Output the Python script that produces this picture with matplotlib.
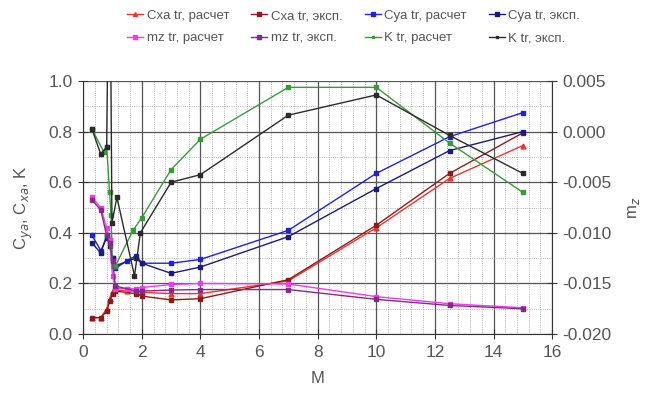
import matplotlib.pyplot as plt
from matplotlib.ticker import MultipleLocator

# числа Маха для расчета и эксперимента
M_calc = [0.3, 0.6, 0.8, 0.9, 1.0, 1.1, 1.5, 1.8, 2.0, 3, 4, 7, 10, 12.5, 15]
M_exp = [0.3, 0.6, 0.8, 0.9, 1.0, 1.1, 1.8, 2.0, 3, 4, 7, 10, 12.5, 15]

cxa_calc = [0.065, 0.065, 0.10, 0.14, 0.17, 0.175, 0.17, 0.17, 0.165, 0.16, 0.16, 0.21, 0.42, 0.615, 0.745]
cxa_exp = [0.065, 0.065, 0.09, 0.13, 0.16, 0.17, 0.16, 0.15, 0.135, 0.14, 0.215, 0.43, 0.635, 0.795]

cya_calc = [0.39, 0.33, 0.38, 0.37, 0.30, 0.26, 0.29, 0.31, 0.28, 0.28, 0.295, 0.41, 0.635, 0.78, 0.875]
cya_exp = [0.36, 0.32, 0.39, 0.35, 0.30, 0.27, 0.30, 0.28, 0.24, 0.265, 0.385, 0.575, 0.725, 0.80]

mz_calc = [-0.0065, -0.0075, -0.0095, -0.01075, -0.01425, -0.0155, -0.0155, -0.0155,
           -0.0154, -0.0151, -0.015, -0.01505, -0.0163, -0.0170, -0.0174]
mz_exp = [-0.00675, -0.00775, -0.01025, -0.011, -0.01275, -0.01525, -0.01575, -0.01575,
          -0.01565, -0.0156, -0.0156, -0.01657, -0.01717, -0.0175]

M_k_calc = [0.3, 0.7, 0.8, 0.9, 0.95, 1.0, 1.1, 1.7, 2.0, 3, 4, 7, 10, 12.5, 15]
k_calc = [0.81, 0.72, 0.74, 0.56, 0.47, 0.27, 0.27, 0.41, 0.46, 0.65, 0.77, 0.975, 0.975, 0.755, 0.56]
M_k_exp = [0.3, 0.6, 0.8, 0.9, 0.98, 1.15, 1.75, 1.95, 3, 4, 7, 10, 12.5, 15]
k_exp = [0.81, 0.71, 0.74, 1.8, 0.44, 0.54, 0.23, 0.40, 0.60, 0.63, 0.865, 0.945, 0.785, 0.635]

plt.rcParams['font.family'] = ['Liberation Sans', 'DejaVu Sans']

fig = plt.figure(figsize=(6.45, 4.03), dpi=100)
ax = fig.add_axes([0.129, 0.171, 0.727, 0.628])
ax2 = ax.twinx()

ms = 3.5
l1, = ax.plot(M_calc, cxa_calc, '-^', color='#e8372f', ms=ms, lw=1, label='Cxa tr, расчет')
l2, = ax.plot(M_exp, cxa_exp, '-s', color='#8e1b1b', ms=ms - 0.5, lw=1, label='Cxa tr, эксп.')
l3, = ax.plot(M_calc, cya_calc, '-s', color='#2020e0', ms=ms, lw=1, label='Cya tr, расчет')
l4, = ax.plot(M_exp, cya_exp, '-s', color='#1b1b7a', ms=ms, lw=1, label='Cya tr, эксп.')
l7, = ax.plot(M_k_calc, k_calc, '-s', color='#3a9a3a', ms=ms - 1, lw=1, label='K tr, расчет')
l8, = ax.plot(M_k_exp, k_exp, '-s', color='#2b2b2b', ms=ms - 1, lw=1, label='K tr, эксп.')
l5, = ax2.plot(M_calc, mz_calc, '-s', color='#ee3cee', ms=ms - 0.5, lw=1, label='mz tr, расчет')
l6, = ax2.plot(M_exp, mz_exp, '-s', color='#862a86', ms=ms - 0.5, lw=1, label='mz tr, эксп.')

ax.set_xlim(0, 16)
ax.set_ylim(0, 1.0)
ax2.set_ylim(-0.020, 0.005)
ax.xaxis.set_major_locator(MultipleLocator(2))
ax.xaxis.set_minor_locator(MultipleLocator(0.4))
ax.yaxis.set_major_locator(MultipleLocator(0.2))
ax.yaxis.set_minor_locator(MultipleLocator(0.1))
ax2.yaxis.set_major_locator(MultipleLocator(0.005))
ax.yaxis.set_major_formatter(plt.FormatStrFormatter('%.1f'))
ax2.yaxis.set_major_formatter(plt.FormatStrFormatter('%.3f'))

ax.grid(True, which='major', color='#555555', lw=0.9)
ax.grid(True, which='minor', color='#999999', lw=0.6, ls=':')

for a in (ax, ax2):
    for s in a.spines.values():
        s.set_visible(False)
ax.spines['left'].set_visible(True)
ax.spines['bottom'].set_visible(True)
ax2.spines['right'].set_visible(True)
for s in (ax.spines['left'], ax.spines['bottom'], ax2.spines['right']):
    s.set_color('#333333')

ax.tick_params(which='major', direction='inout', length=7, labelsize=12.5, colors='#333333', labelcolor='#555555', pad=4)
ax.tick_params(which='minor', length=0)
ax2.tick_params(which='major', direction='inout', length=7, labelsize=12.5, colors='#333333', labelcolor='#555555', pad=4)

ax.set_xlabel('M', fontsize=12, color='#555555', labelpad=8)
ax.set_ylabel('C$_{ya}$, C$_{xa}$, K', fontsize=12, color='#555555', labelpad=10)
ax2.set_ylabel('m$_z$', fontsize=12, color='#555555', rotation=90, labelpad=10)

handles = [l1, l5, l2, l6, l3, l7, l4, l8]
fig.legend(handles=handles, labels=[h.get_label() for h in handles], ncol=4,
           loc='upper center', bbox_to_anchor=(0.548, 1.005), frameon=False,
           fontsize=9.5, handlelength=1.2, handletextpad=0.25, columnspacing=1.7,
           labelspacing=0.75, markerscale=0.8, labelcolor='#555555')

fig.savefig('out.png', dpi=100)
